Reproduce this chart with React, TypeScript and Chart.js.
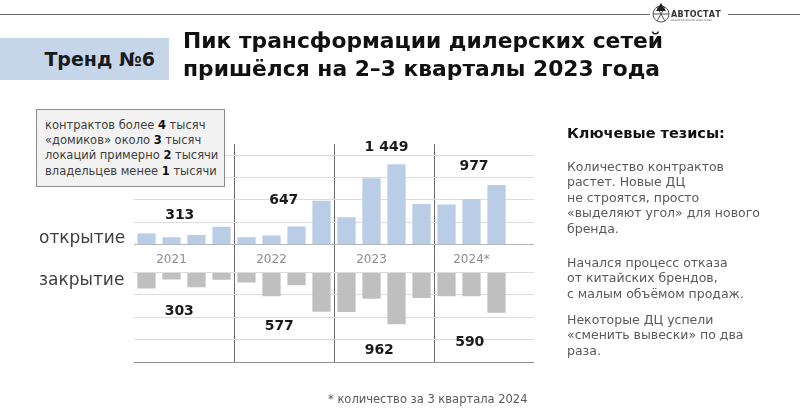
import React, { useEffect, useRef } from 'react';
import { Chart, registerables } from 'chart.js';

Chart.register(...registerables);

const quarters = [
  '2021 I', '2021 II', '2021 III', '2021 IV',
  '2022 I', '2022 II', '2022 III', '2022 IV',
  '2023 I', '2023 II', '2023 III', '2023 IV',
  '2024 I', '2024 II', '2024 III', '2024 IV',
];
const years = ['2021', '2022', '2023', '2024*'];
const openings = [75, 51, 65, 120, 51, 62, 122, 295, 185, 445, 540, 273, 270, 307, 400, null];
const closures = [107, 48, 99, 49, 67, 160, 86, 264, 266, 177, 348, 171, 160, 160, 270, null];
const openTotals = ['313', '647', '1 449', '977'];
const closeTotals = ['303', '577', '962', '590'];

const FONT = '"DejaVu Sans", sans-serif';

const slideLabels = {
  id: 'slideLabels',
  afterDatasetsDraw(chart: any, _args: any, opts: any) {
    const { ctx, scales } = chart;
    const x = scales.x;
    const yo = scales.yOpen;
    const yc = scales.yClose;
    ctx.save();
    ctx.textAlign = 'center';
    ctx.textBaseline = 'middle';
    ctx.font = `12px ${FONT}`;
    ctx.fillStyle = '#8c8c8c';
    const yearY = (yo.getPixelForValue(0) + yc.getPixelForValue(0)) / 2 + 1;
    years.forEach((yr, i) => ctx.fillText(yr, x.getPixelForValue(i * 4 + 1), yearY));
    ctx.font = `bold 14px ${FONT}`;
    ctx.fillStyle = '#1a1a1a';
    opts.openAt.forEach((p: number[], i: number) =>
      ctx.fillText(openTotals[i], x.getPixelForValue(p[0]), yo.getPixelForValue(p[1])));
    opts.closeAt.forEach((p: number[], i: number) =>
      ctx.fillText(closeTotals[i], x.getPixelForValue(p[0]), yc.getPixelForValue(p[1])));
    ctx.restore();
  },
};

function ChartCanvas() {
  const ref = useRef<HTMLCanvasElement>(null);
  useEffect(() => {
    if (!ref.current) return;
    const chart = new Chart(ref.current, {
      type: 'bar',
      data: {
        labels: quarters,
        datasets: [
          {
            label: 'открытие',
            data: openings,
            yAxisID: 'yOpen',
            backgroundColor: '#b9cde6',
            grouped: false,
            categoryPercentage: 1,
            barPercentage: 0.73,
          },
          {
            label: 'закрытие',
            data: closures,
            yAxisID: 'yClose',
            backgroundColor: '#bfbfbf',
            grouped: false,
            categoryPercentage: 1,
            barPercentage: 0.73,
          },
        ],
      } as any,
      options: {
        responsive: false,
        animation: false,
        devicePixelRatio: 1,
        layout: { padding: { left: 134, right: 266, top: 144, bottom: 58 } },
        plugins: {
          legend: { display: false },
          tooltip: { enabled: false },
          slideLabels: {
            openAt: [[1.33, 200], [5.49, 295], [9.6, 653], [13.1, 527]],
            closeAt: [[1.31, 264], [5.31, 360], [9.31, 520], [12.93, 467]],
          },
        } as any,
        scales: {
          x: {
            type: 'category',
            offset: true,
            ticks: { display: false },
            border: { display: false },
            grid: {
              offset: true,
              drawTicks: false,
              lineWidth: 1,
              color: (c: any) => (c.index % 4 === 0 && c.index > 0 && c.index < 16 ? '#6b6b6b' : 'rgba(0,0,0,0)'),
            },
          },
          yClose: {
            type: 'linear',
            position: 'left',
            stack: 'panels',
            stackWeight: 117.5,
            reverse: true,
            min: -185,
            max: 600,
            ticks: { display: false, stepSize: 150, includeBounds: false },
            border: { display: false },
            grid: {
              drawTicks: false,
              color: (c: any) => {
                const v = c.tick ? c.tick.value : 0;
                if (v < 0) return 'rgba(0,0,0,0)';
                if (v === 600) return '#8f8f8f';
                return '#dcdcdc';
              },
            },
          },
          yOpen: {
            type: 'linear',
            position: 'left',
            stack: 'panels',
            stackWeight: 101,
            min: 0,
            max: 675,
            ticks: { display: false, stepSize: 150, includeBounds: false },
            border: { display: false },
            grid: {
              drawTicks: false,
              color: (c: any) => (c.tick && c.tick.value === 0 ? '#b5b5b5' : '#dcdcdc'),
            },
          },
        } as any,
      },
      plugins: [slideLabels],
    });
    return () => chart.destroy();
  }, []);
  return (
    <canvas ref={ref} width={800} height={420}
      style={{ position: 'absolute', left: 0, top: 0, width: 800, height: 420 }} />
  );
}

const abs = (o: React.CSSProperties): React.CSSProperties => ({ position: 'absolute', ...o });

export default function App() {
  const body: React.CSSProperties = { fontFamily: FONT, color: '#595959', fontSize: 12.5, lineHeight: '15.4px', whiteSpace: 'nowrap' };
  return (
    <div style={{ position: 'absolute', left: 0, top: 0, width: 800, height: 420, background: '#fff', overflow: 'hidden', fontFamily: FONT }}>
      <ChartCanvas />
      {/* header line and logo */}
      <div style={abs({ left: 0, top: 14, width: 650, height: 1, background: '#6b6b6b' })} />
      <div style={abs({ left: 728, top: 14, width: 72, height: 1, background: '#6b6b6b' })} />
      <svg style={abs({ left: 651, top: 2, width: 20, height: 22 })} viewBox="0 0 20 22">
        <circle cx="10" cy="12" r="8" fill="none" stroke="#555" strokeWidth="1" />
        <line x1="2" y1="12" x2="18" y2="12" stroke="#555" strokeWidth="1" />
        <line x1="6" y1="5" x2="14" y2="19" stroke="#555" strokeWidth="1" />
        <line x1="14" y1="5" x2="6" y2="19" stroke="#555" strokeWidth="1" />
        <polygon points="10,1 15,9 5,9" fill="#222" />
      </svg>
      <div style={abs({ left: 671, top: 10, fontSize: 8, fontWeight: 700, color: '#333', letterSpacing: 0.3, lineHeight: '9px' })}>АВТОСТАТ</div>
      <div style={abs({ left: 671, top: 19, fontSize: 3, color: '#666', lineHeight: '3px', whiteSpace: 'nowrap' })}>аналитическое агентство</div>

      {/* trend box */}
      <div style={abs({ left: 0, top: 38, width: 169, height: 42, background: '#c6d6ea', display: 'flex', alignItems: 'center', justifyContent: 'flex-end', boxSizing: 'border-box', paddingRight: 14 })}>
        <span style={{ fontSize: 19, fontWeight: 700, color: '#1a1a1a', whiteSpace: 'nowrap' }}>Тренд №6</span>
      </div>
      <div style={abs({ left: 183, top: 27, fontSize: 21.8, fontWeight: 700, lineHeight: '28px', color: '#111', whiteSpace: 'nowrap' })}>
        Пик трансформации дилерских сетей<br />пришёлся на 2–3 кварталы 2023 года
      </div>

      {/* info box */}
      <div style={abs({ left: 36, top: 109, width: 189, height: 78, background: '#f2f2f2', border: '1px solid #8c8c8c', boxSizing: 'border-box', paddingLeft: 8, paddingTop: 8, fontSize: 11.5, lineHeight: '15.2px', color: '#404040', whiteSpace: 'nowrap' })}>
        контрактов более <b style={{ color: '#111' }}>4</b> тысяч<br />
        «домиков» около <b style={{ color: '#111' }}>3</b> тысяч<br />
        локаций примерно <b style={{ color: '#111' }}>2</b> тысячи<br />
        владельцев менее <b style={{ color: '#111' }}>1</b> тысячи
      </div>

      <div style={abs({ left: 39, top: 226, fontSize: 17, lineHeight: '22px', color: '#404040' })}>открытие</div>
      <div style={abs({ left: 39, top: 268, fontSize: 17, lineHeight: '22px', color: '#404040' })}>закрытие</div>

      {/* right panel */}
      <div style={abs({ left: 567, top: 123, fontSize: 14.5, fontWeight: 700, lineHeight: '20px', color: '#111', whiteSpace: 'nowrap' })}>Ключевые тезисы:</div>
      <div style={{ ...abs({ left: 567, top: 159 }), ...body }}>
        Количество контрактов<br />растет. Новые ДЦ<br />не строятся, просто<br />«выделяют угол» для нового<br />бренда.
      </div>
      <div style={{ ...abs({ left: 567, top: 255 }), ...body }}>
        Начался процесс отказа<br />от китайских брендов,<br />с малым объёмом продаж.
      </div>
      <div style={{ ...abs({ left: 567, top: 312 }), ...body }}>
        Некоторые ДЦ  успели<br />«сменить вывески» по два<br />раза.
      </div>

      <div style={{ ...abs({ left: 328, top: 392 }), ...body, fontSize: 11.5 }}>* количество за 3 квартала 2024</div>
    </div>
  );
}
